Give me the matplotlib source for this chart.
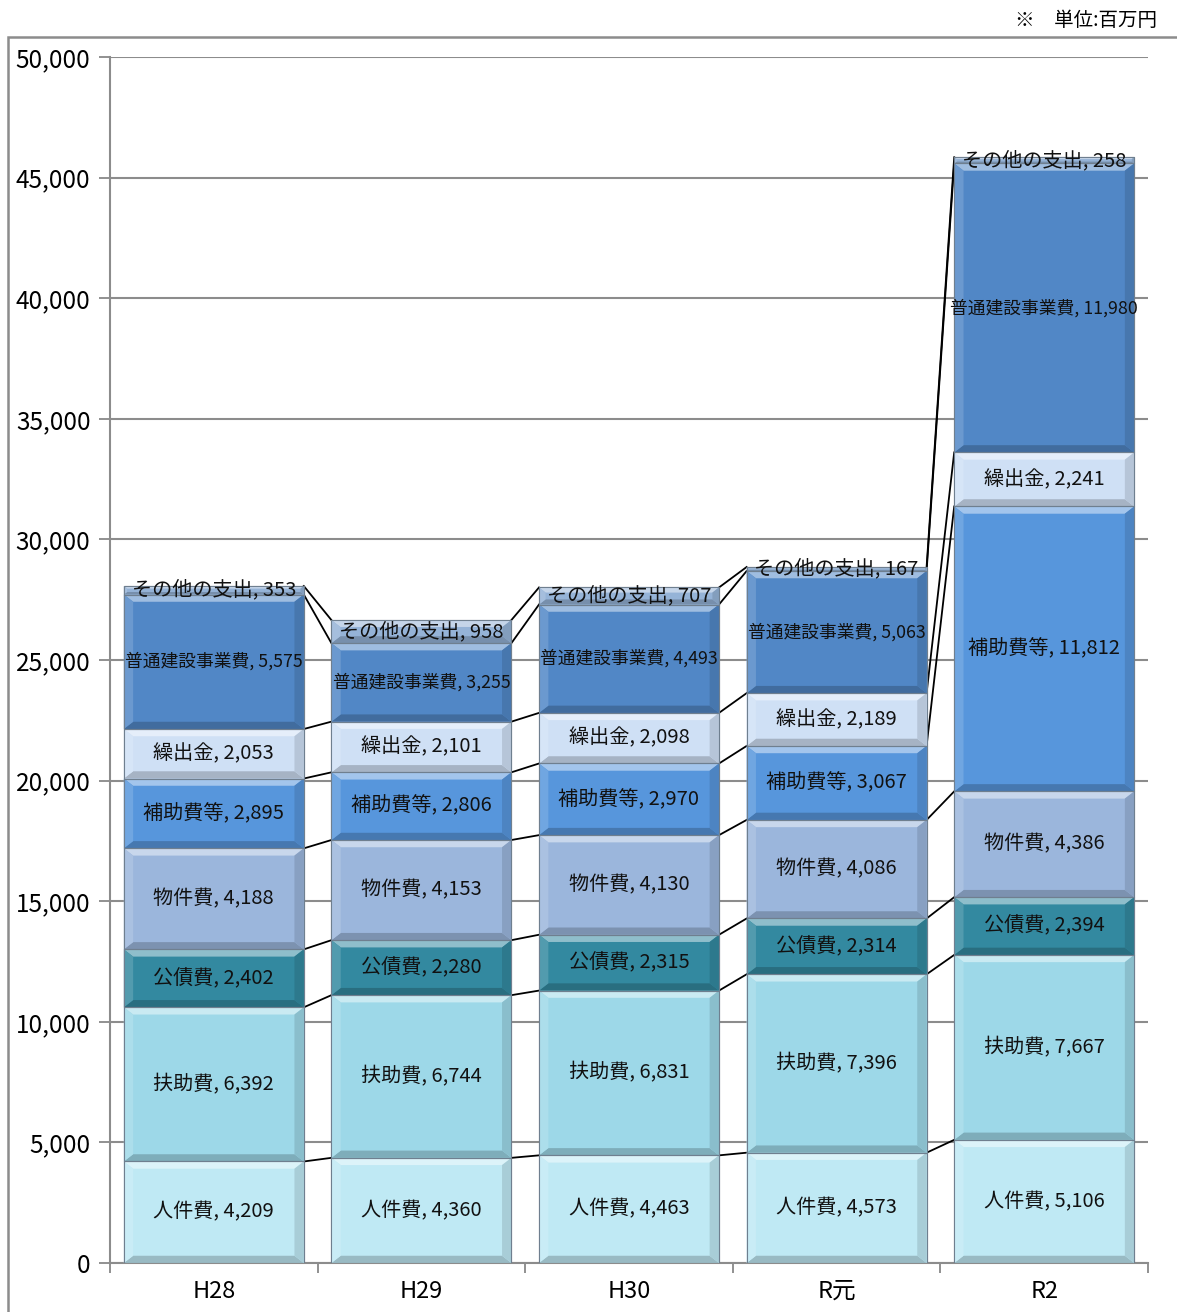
import matplotlib
matplotlib.use("Agg")
import matplotlib.pyplot as plt
from matplotlib.patches import Rectangle
from matplotlib.ticker import FuncFormatter
import numpy as np

plt.rcParams['font.family'] = ['Noto Sans CJK JP', 'DejaVu Sans']

years = ['H28', 'H29', 'H30', 'R元', 'R2']
items = ['人件費', '扶助費', '公債費', '物件費', '補助費等', '繰出金', '普通建設事業費', 'その他の支出']
jinken = [4209, 4360, 4463, 4573, 5106]
fujo = [6392, 6744, 6831, 7396, 7667]
kousai = [2402, 2280, 2315, 2314, 2394]
bukken = [4188, 4153, 4130, 4086, 4386]
hojo = [2895, 2806, 2970, 3067, 11812]
kuridashi = [2053, 2101, 2098, 2189, 2241]
futsu = [5575, 3255, 4493, 5063, 11980]
sonota = [353, 958, 707, 167, 258]
series = [jinken, fujo, kousai, bukken, hojo, kuridashi, futsu, sonota]

colors = ['#bfe9f4', '#9dd8e8', '#3389a0', '#9bb6dc', '#5796dc',
          '#cfe0f5', '#5187c6', '#95b3d7']


def shade(c, f):
    rgb = np.array(matplotlib.colors.to_rgb(c))
    if f > 0:
        rgb = rgb + (1 - rgb) * f
    else:
        rgb = rgb * (1 + f)
    return rgb


fig = plt.figure(figsize=(11.77, 13.12), dpi=100)
ax = fig.add_axes([110 / 1177, 1 - 1263 / 1312, 1038 / 1177, 1206 / 1312])

x = np.arange(len(years))
w = 0.867
bottom = np.zeros(len(years))
bev_x = 0.045
bev_y = 300
for k, vals in enumerate(series):
    vals = np.array(vals)
    ax.bar(x, vals, w, bottom=bottom, color=colors[k], edgecolor='#6f7f8f',
           linewidth=0.8, zorder=3)
    # bevel look
    for i in range(len(years)):
        x0 = x[i] - w / 2
        x1 = x[i] + w / 2
        y0 = bottom[i]
        y1 = bottom[i] + vals[i]
        by = min(bev_y, vals[i] * 0.3)
        bx = bev_x * by / bev_y
        ax.fill([x0, x1, x1 - bx, x0 + bx], [y1, y1, y1 - by, y1 - by],
                color=shade(colors[k], 0.45), lw=0, zorder=4)
        ax.fill([x0, x1, x1 - bx, x0 + bx], [y0, y0, y0 + by, y0 + by],
                color=shade(colors[k], -0.2), lw=0, zorder=4)
        ax.fill([x0, x0 + bx, x0 + bx, x0], [y0, y0 + by, y1 - by, y1],
                color=shade(colors[k], 0.15), lw=0, zorder=4)
        ax.fill([x1, x1 - bx, x1 - bx, x1], [y0, y0 + by, y1 - by, y1],
                color=shade(colors[k], -0.12), lw=0, zorder=4)
        ax.add_patch(Rectangle((x0, y0), w, vals[i], fill=False,
                               edgecolor='#6f7f8f', lw=0.8, zorder=5))
        fs = 12.8 if items[k] == '普通建設事業費' else 14.5
        ax.text(x[i], y0 + vals[i] / 2, f'{items[k]}, {vals[i]:,}',
                ha='center', va='center', fontsize=fs, color='#111111', zorder=6)
    top = bottom + vals
    # series lines
    for i in range(len(years) - 1):
        ax.plot([x[i] + w / 2, x[i + 1] - w / 2], [top[i], top[i + 1]],
                color='black', lw=1.3, zorder=2)
    bottom = top

ax.set_xlim(-0.5, len(years) - 0.5)
ax.set_ylim(0, 50000)
ax.set_yticks(np.arange(0, 50001, 5000))
ax.yaxis.set_major_formatter(FuncFormatter(lambda v, p: f'{int(v):,}'))
ax.set_xticks(x)
ax.set_xticklabels(years, fontsize=17)
ax.set_xticks(np.arange(-0.5, len(years), 1), minor=True)
ax.tick_params(axis='x', which='major', length=0, pad=12)
ax.tick_params(axis='x', which='minor', length=7, color='#888888', width=1.3)
ax.tick_params(axis='y', length=8, color='#888888', width=1.3, labelsize=17.5, pad=6)
ax.grid(axis='y', color='#8c8c8c', lw=1.5, zorder=0)
for s in ['top', 'right']:
    ax.spines[s].set_visible(False)
for s in ['left', 'bottom']:
    ax.spines[s].set_color('#8c8c8c')
    ax.spines[s].set_linewidth(1.5)

fig.patches.append(Rectangle((8 / 1177, -0.01), 1.1, 1.01 - 37 / 1312 + 0.0,
                             transform=fig.transFigure, fill=False,
                             edgecolor='#8c8c8c', lw=1.8))
fig.text(1157 / 1177, 1 - 20 / 1312, '※　単位:百万円', ha='right', va='center',
         fontsize=14)

fig.savefig('out.png', dpi=100)
